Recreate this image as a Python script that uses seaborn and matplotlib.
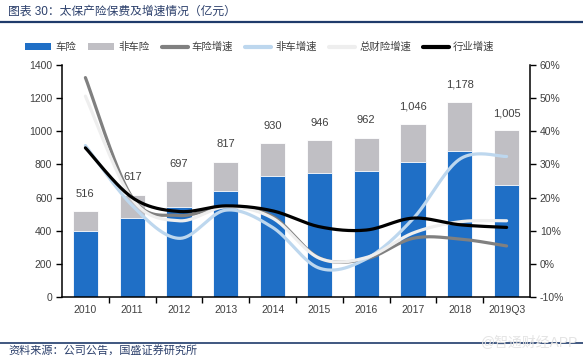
import numpy as np
import matplotlib
matplotlib.use("Agg")
import matplotlib.pyplot as plt
import seaborn as sns
from matplotlib.patches import Patch
from matplotlib.lines import Line2D
from matplotlib.ticker import FuncFormatter

# ---------------- data ----------------
years = ['2010', '2011', '2012', '2013', '2014', '2015', '2016', '2017', '2018', '2019Q3']
auto_prem = [397, 477, 543, 640, 732, 750, 762, 816, 881, 674]          # 车险 (亿元)
total_prem = [516, 617, 697, 817, 930, 946, 962, 1046, 1178, 1005]     # 车险+非车险
auto_growth = [56.2, 20.0, 14.6, 17.3, 14.3, 1.8, 1.5, 7.7, 7.5, 5.4]      # 车险增速 %
nonauto_growth = [35.7, 17.6, 7.7, 16.2, 11.0, -1.3, 1.5, 13.6, 31.6, 32.4]  # 非车增速 %
total_growth = [50.6, 19.6, 13.0, 17.2, 13.8, 1.7, 1.9, 9.3, 12.7, 13.0]    # 总财险增速 %
industry_growth = [35.0, 20.0, 15.8, 17.5, 16.0, 11.2, 10.2, 13.8, 11.8, 11.0]  # 行业增速 %

c_auto = '#1F6FC6'
c_nonauto = '#C0BFC4'
c_ag = '#808080'
c_ng = '#BDD7EE'
c_tg = '#EEEEEE'
c_ig = '#000000'
txt = '#404040'

sns.set_style('white')
plt.rcParams['font.family'] = ['Liberation Sans', 'Noto Sans CJK SC', 'DejaVu Sans']
plt.rcParams['axes.unicode_minus'] = False

fig = plt.figure(figsize=(5.83, 3.56), dpi=100)
ax = fig.add_axes([62 / 583, 1 - 297 / 356, (530 - 62) / 583, (297 - 65) / 356])

# stacked bars: total (gray) then auto (blue) over it
sns.barplot(x=years, y=total_prem, color=c_nonauto, saturation=1, width=0.535,
            ax=ax, edgecolor='white', linewidth=0.6)
sns.barplot(x=years, y=auto_prem, color=c_auto, saturation=1, width=0.535,
            ax=ax, edgecolor='white', linewidth=0.6)

for i, v in enumerate(total_prem):
    ax.annotate(f'{v:,}', (i, v), xytext=(0, 12.5), textcoords='offset points',
                ha='center', va='center', fontsize=8, color=txt)

ax.set_xlim(-0.5, 9.5)
ax.set_ylim(0, 1400)
ax.set_yticks(range(0, 1401, 200))
ax.set_xlabel('')
ax.set_ylabel('')

# secondary axis lines
ax2 = ax.twinx()


def smooth(vals, n=40):
    pts = np.array([[i, v] for i, v in enumerate(vals)], dtype=float)
    P = np.vstack([pts[0], pts, pts[-1]])
    xs, ys = [], []
    for i in range(len(pts) - 1):
        p0, p1, p2, p3 = P[i], P[i + 1], P[i + 2], P[i + 3]
        c1 = p1 + (p2 - p0) / 6.0
        c2 = p2 - (p3 - p1) / 6.0
        t = np.linspace(0, 1, n, endpoint=(i == len(pts) - 2))[:, None]
        b = (1 - t) ** 3 * p1 + 3 * (1 - t) ** 2 * t * c1 + 3 * (1 - t) * t ** 2 * c2 + t ** 3 * p2
        xs.extend(b[:, 0])
        ys.extend(b[:, 1])
    return np.array(xs), np.array(ys)


series = [(auto_growth, c_ag, 2.3), (nonauto_growth, c_ng, 2.3),
          (total_growth, c_tg, 2.3), (industry_growth, c_ig, 2.3)]
for vals, col, lw in series:
    sx, sy = smooth(vals)
    sns.lineplot(x=sx, y=sy, ax=ax2, color=col, linewidth=lw, sort=False,
                 estimator=None, solid_capstyle='round')

ax2.set_ylim(-10, 60)
ax2.set_yticks(range(-10, 61, 10))
ax2.yaxis.set_major_formatter(FuncFormatter(lambda v, p: f'{int(v)}%'))
ax2.set_xlim(-0.5, 9.5)

# spines and ticks
for a in (ax, ax2):
    a.spines['top'].set_visible(False)
    for s in ('left', 'right', 'bottom'):
        a.spines[s].set_color('black')
        a.spines[s].set_linewidth(1.1)
ax.spines['right'].set_visible(False)
ax2.spines['left'].set_visible(False)
ax2.spines['bottom'].set_visible(False)

ax.tick_params(axis='y', direction='out', length=4, width=1, color='black',
               labelsize=7.5, labelcolor=txt, left=True, pad=3)
ax2.tick_params(axis='y', direction='out', length=4, width=1, color='black',
                labelsize=7.5, labelcolor=txt, right=True, pad=3)
ax.set_xticks(range(len(years)))
ax.set_xticklabels(years)
ax.set_xticks(np.arange(0.5, 9.0, 1), minor=True)
ax.tick_params(axis='x', which='major', length=0, labelsize=7.5, labelcolor=txt, pad=6)
ax.tick_params(axis='x', which='minor', direction='out', length=4, width=1,
               color='black', bottom=True)

# legend
handles = [Patch(facecolor=c_auto, edgecolor='none'),
           Patch(facecolor=c_nonauto, edgecolor='none'),
           Line2D([], [], color=c_ag, lw=3),
           Line2D([], [], color=c_ng, lw=3),
           Line2D([], [], color=c_tg, lw=3),
           Line2D([], [], color=c_ig, lw=3)]
labels = ['车险', '非车险', '车险增速', '非车增速', '总财险增速', '行业增速']
fig.legend(handles, labels, loc='center', bbox_to_anchor=(260 / 583, 1 - 47 / 356),
           ncol=6, frameon=False, fontsize=7.5, handlelength=2.5, handleheight=0.55,
           handletextpad=0.4, columnspacing=1.15, labelcolor=txt)

# title & footer
fig.text(8 / 583, 1 - 12 / 356, '图表 30：太保产险保费及增速情况（亿元）', fontsize=8.5,
         color='#2B3F6B', ha='left', va='center')
fig.add_artist(Line2D([0, 1], [1 - 22 / 356, 1 - 22 / 356], color='#1F3B6B', lw=1.6))
fig.add_artist(Line2D([0, 1], [1 - 343 / 356, 1 - 343 / 356], color='#1F3B6B', lw=1.2))
fig.text(8 / 583, 1 - 350 / 356, '资料来源：公司公告，国盛证券研究所', fontsize=8,
         color='#2B3F6B', ha='left', va='center')
fig.text(578 / 583, 1 - 343 / 356, '@智通财经APP', fontsize=10, color='#E4E4E4',
         ha='right', va='center')

fig.savefig('out.png', dpi=100)
